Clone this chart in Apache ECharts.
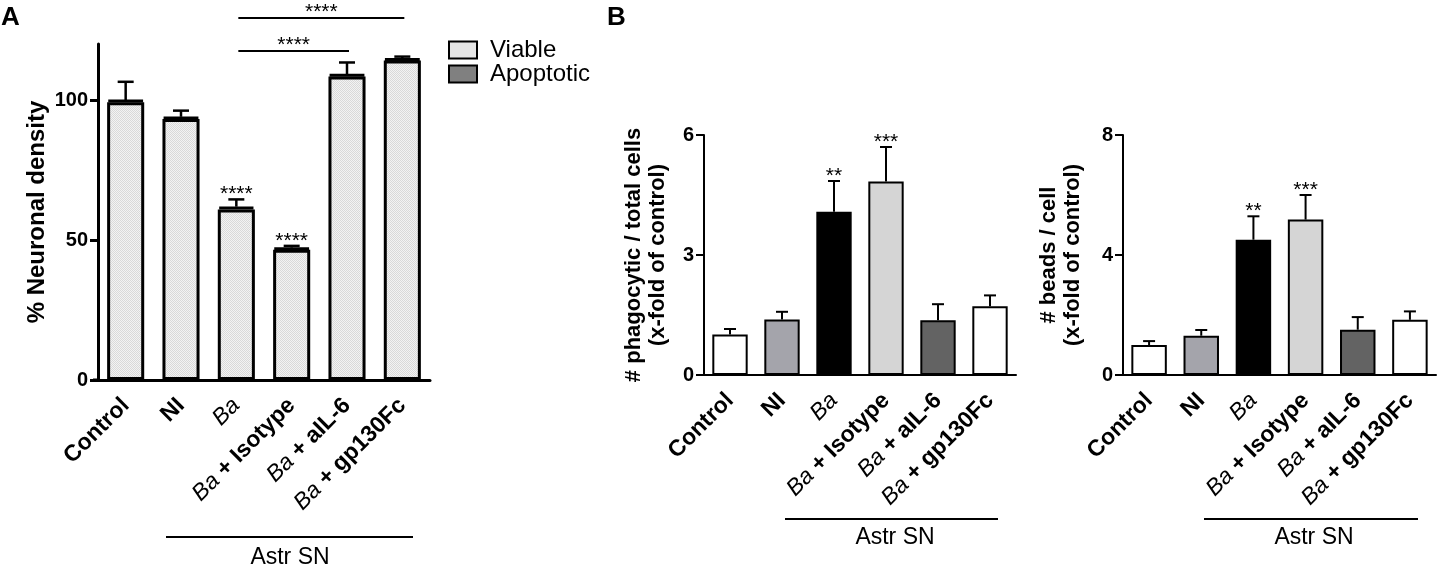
<!DOCTYPE html>
<html>
<head>
<meta charset="utf-8">
<script src="https://cdn.jsdelivr.net/npm/echarts@6/dist/echarts.min.js"></script>
<style>
  html, body { margin: 0; padding: 0; background: #fff; }
  #chart { width: 1442px; height: 571px; }
</style>
</head>
<body>
<div id="chart"></div>
<script>
// groups (same for all three panels)
const categories = ['Control', 'NI', 'Ba', 'Ba + Isotype', 'Ba + aIL-6', 'Ba + gp130Fc'];

// panel A - % neuronal density (stacked viable + apoptotic)
const viable = [99.2, 93.2, 60.9, 46.5, 108.4, 114.1];
const apoptotic = [0.8, 0.8, 1.0, 0.8, 0.8, 0.8];
const densityErrTop = [106.5, 96.2, 64.5, 47.9, 113.4, 115.5];
const densitySig = ['', '', '****', '****', '', ''];
// [from group, to group, height, stars]
const densityBrackets = [[2, 4, 117.5, '****'], [2, 5, 129.3, '****']];
const densityTicks = [0, 50, 100];

// panel B left - phagocytic / total cells
const phagoMean = [1.01, 1.39, 4.08, 4.84, 1.37, 1.72];
const phagoErrTop = [1.15, 1.58, 4.85, 5.70, 1.77, 1.99];
const phagoTicks = [0, 3, 6];

// panel B right - beads / cell
const beadsMean = [1.0, 1.31, 4.51, 5.18, 1.51, 1.84];
const beadsErrTop = [1.13, 1.50, 5.29, 6.00, 1.93, 2.12];
const beadsTicks = [0, 4, 8];

const sigB = ['', '', '**', '***', '', ''];
const barColorsB = ['#ffffff', '#a4a4ab', '#000000', '#d5d5d5', '#636363', '#ffffff'];

const FONT = "'Liberation Sans', Arial, Helvetica, sans-serif";

function hatch() {
    const c = document.createElement('canvas');
    c.width = 4; c.height = 4;
    const g = c.getContext('2d');
    g.fillStyle = '#f3f3f3';
    g.fillRect(0, 0, 4, 4);
    g.fillStyle = '#d9d9d9';
    for (let y = 0; y < 4; y++) {
        for (let x = 0; x < 4; x++) {
            if ((x + y) % 2 === 0) g.fillRect(x, y, 1, 1);
        }
    }
    return c;
}

function catLabel(v) {
    if (v === 'Ba') return '{i|Ba}';
    if (v.indexOf('Ba + ') === 0) return '{i|Ba}{p| + }{b|' + v.slice(5) + '}';
    return '{b|' + v + '}';
}

const labelRich = {
    i: { fontFamily: FONT, fontStyle: 'italic', fontWeight: 'normal', fontSize: 23, color: '#000' },
    p: { fontFamily: FONT, fontWeight: 'bold', fontSize: 23, color: '#000' },
    b: { fontFamily: FONT, fontWeight: 'bold', fontSize: 23, color: '#000' }
};

function xAxisFor(gridIndex, lw, tickLen) {
    return {
        type: 'category', gridIndex: gridIndex, data: categories,
        axisLine: { lineStyle: { color: '#000', width: lw } },
        axisTick: { alignWithLabel: true, length: tickLen, lineStyle: { color: '#000', width: lw } },
        axisLabel: { rotate: 45, margin: 22, formatter: catLabel, rich: labelRich, color: '#000' },
        splitLine: { show: false }
    };
}

function yAxisFor(gridIndex, max, ticks, name, nameGap, nameSize, lw) {
    return {
        type: 'value', gridIndex: gridIndex, min: 0, max: max, interval: ticks[1] - ticks[0],
        name: name, nameLocation: 'middle', nameGap: nameGap, nameRotate: 90,
        nameTextStyle: { fontFamily: FONT, fontWeight: 'bold', fontSize: nameSize, color: '#000', lineHeight: nameSize + 2 },
        axisLine: { show: true, lineStyle: { color: '#000', width: lw } },
        axisTick: { show: true, length: 8, customValues: ticks, lineStyle: { color: '#000', width: lw } },
        axisLabel: {
            margin: 10, color: '#000', showMaxLabel: max === ticks[ticks.length - 1],
            formatter: v => '{t|' + v + '}',
            rich: { t: { fontFamily: FONT, fontWeight: 'bold', fontSize: 20, color: '#000' } }
        },
        splitLine: { show: false }
    };
}

// whisker + cap above each bar, plus the stars
function errorSeries(axisIdx, means, tops, sig, capHalf, lw) {
    return {
        type: 'custom', xAxisIndex: axisIdx, yAxisIndex: axisIdx, z: 10, clip: false,
        silent: true,
        data: means.map((m, i) => [i, m, tops[i]]),
        renderItem: function (params, api) {
            const base = api.coord([api.value(0), api.value(1)]);
            const top = api.coord([api.value(0), api.value(2)]);
            const st = { stroke: '#000', lineWidth: lw };
            const kids = [
                { type: 'line', shape: { x1: base[0], y1: base[1], x2: top[0], y2: top[1] }, style: st },
                { type: 'line', shape: { x1: top[0] - capHalf, y1: top[1], x2: top[0] + capHalf, y2: top[1] }, style: st }
            ];
            const s = sig[params.dataIndex];
            if (s) {
                kids.push({
                    type: 'text', x: top[0], y: top[1] - 5,
                    style: { text: s, fill: '#000', font: '21px ' + FONT, align: 'center', verticalAlign: 'middle' }
                });
            }
            return { type: 'group', children: kids };
        }
    };
}

const densityTotal = viable.map((v, i) => v + apoptotic[i]);
const hatchFill = { image: hatch(), repeat: 'repeat' };

const option = {
    animation: false,
    backgroundColor: '#fff',
    textStyle: { fontFamily: FONT },
    grid: [
        { left: 98, top: 44, width: 332, height: 336 },
        { left: 704, top: 135, width: 312, height: 240 },
        { left: 1123, top: 135, width: 313, height: 240 }
    ],
    legend: {
        data: ['Viable', 'Apoptotic'],
        orient: 'vertical', left: 448, top: 38, padding: 0,
        itemWidth: 28, itemHeight: 17, itemGap: 0,
        icon: 'rect',
        itemStyle: { borderColor: '#000', borderWidth: 2 },
        textStyle: { fontFamily: FONT, fontSize: 24, lineHeight: 23, color: '#000', padding: [0, 0, 0, 8] },
        selectedMode: false
    },
    xAxis: [xAxisFor(0, 3, 8), xAxisFor(1, 2, 6), xAxisFor(2, 2, 6)],
    yAxis: [
        yAxisFor(0, 120, densityTicks, '% Neuronal density', 47, 24, 3),
        yAxisFor(1, 6, phagoTicks, '# phagocytic / total cells\n(x-fold of control)', 34, 22, 2),
        yAxisFor(2, 8, beadsTicks, '# beads / cell\n(x-fold of control)', 38, 22, 2)
    ],
    series: [
        {
            name: 'Viable', type: 'bar', stack: 'a', xAxisIndex: 0, yAxisIndex: 0,
            barWidth: '67%', data: viable,
            itemStyle: { color: hatchFill, borderColor: '#000', borderWidth: 3 }
        },
        {
            name: 'Apoptotic', type: 'bar', stack: 'a', xAxisIndex: 0, yAxisIndex: 0,
            barWidth: '67%', data: apoptotic,
            itemStyle: { color: '#808080', borderColor: '#000', borderWidth: 3 }
        },
        errorSeries(0, densityTotal, densityErrTop, densitySig, 8, 2.5),
        {
            // significance brackets over panel A
            type: 'custom', xAxisIndex: 0, yAxisIndex: 0, z: 10, clip: false, silent: true,
            data: densityBrackets.map(b => [b[0], b[1], b[2]]),
            renderItem: function (params, api) {
                const p1 = api.coord([api.value(0), api.value(2)]);
                const p2 = api.coord([api.value(1), api.value(2)]);
                return {
                    type: 'group', children: [
                        { type: 'line', shape: { x1: p1[0] + 2, y1: p1[1], x2: p2[0] + 2, y2: p2[1] }, style: { stroke: '#000', lineWidth: 2 } },
                        {
                            type: 'text', x: (p1[0] + p2[0]) / 2 + 2, y: p1[1] - 6,
                            style: { text: densityBrackets[params.dataIndex][3], fill: '#000', font: '21px ' + FONT, align: 'center', verticalAlign: 'middle' }
                        }
                    ]
                };
            }
        },
        {
            name: 'phagocytic', type: 'bar', xAxisIndex: 1, yAxisIndex: 1, barWidth: '68%',
            data: phagoMean.map((v, i) => ({ value: v, itemStyle: { color: barColorsB[i] } })),
            itemStyle: { borderColor: '#000', borderWidth: 2 }
        },
        errorSeries(1, phagoMean, phagoErrTop, sigB, 6, 2),
        {
            name: 'beads', type: 'bar', xAxisIndex: 2, yAxisIndex: 2, barWidth: '68%',
            data: beadsMean.map((v, i) => ({ value: v, itemStyle: { color: barColorsB[i] } })),
            itemStyle: { borderColor: '#000', borderWidth: 2 }
        },
        errorSeries(2, beadsMean, beadsErrTop, sigB, 6, 2)
    ],
    graphic: [
        { type: 'text', left: 1, top: 5, style: { text: 'A', font: 'bold 26px ' + FONT, fill: '#000' } },
        { type: 'text', left: 607, top: 5, style: { text: 'B', font: 'bold 26px ' + FONT, fill: '#000' } },
        // axis lines poke out a little left of the y axes in the original
        { type: 'line', shape: { x1: 93, y1: 380, x2: 99, y2: 380 }, style: { stroke: '#000', lineWidth: 3 } },
        { type: 'line', shape: { x1: 698, y1: 375, x2: 705, y2: 375 }, style: { stroke: '#000', lineWidth: 2 } },
        { type: 'line', shape: { x1: 1117, y1: 375, x2: 1124, y2: 375 }, style: { stroke: '#000', lineWidth: 2 } },
        // "Astr SN" group bars
        { type: 'line', shape: { x1: 166, y1: 537, x2: 413, y2: 537 }, style: { stroke: '#000', lineWidth: 2 } },
        { type: 'text', x: 290, y: 558, style: { text: 'Astr SN', font: '23px ' + FONT, fill: '#000', align: 'center', verticalAlign: 'middle' } },
        { type: 'line', shape: { x1: 785, y1: 519, x2: 998, y2: 519 }, style: { stroke: '#000', lineWidth: 2 } },
        { type: 'text', x: 895, y: 538, style: { text: 'Astr SN', font: '23px ' + FONT, fill: '#000', align: 'center', verticalAlign: 'middle' } },
        { type: 'line', shape: { x1: 1204, y1: 519, x2: 1418, y2: 519 }, style: { stroke: '#000', lineWidth: 2 } },
        { type: 'text', x: 1314, y: 538, style: { text: 'Astr SN', font: '23px ' + FONT, fill: '#000', align: 'center', verticalAlign: 'middle' } }
    ]
};

const chart = echarts.init(document.getElementById('chart'));
chart.setOption(option);
window.addEventListener('resize', () => chart.resize());
</script>
</body>
</html>
